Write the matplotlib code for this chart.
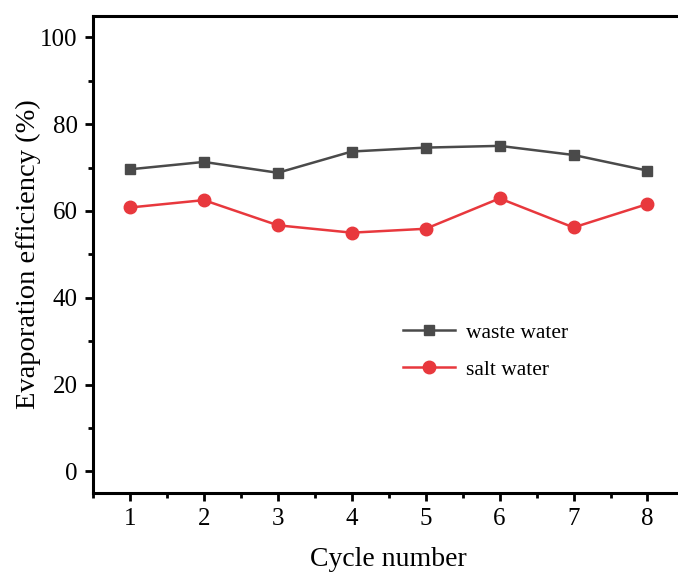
import matplotlib
matplotlib.use("Agg")
from matplotlib import pyplot as plt
from matplotlib.ticker import MultipleLocator

# data
cycles = [1, 2, 3, 4, 5, 6, 7, 8]
waste_water = [69.6, 71.3, 68.8, 73.7, 74.6, 75.0, 72.9, 69.3]
salt_water = [60.8, 62.5, 56.7, 55.0, 55.9, 62.9, 56.2, 61.6]

plt.rcParams["font.family"] = ["Liberation Serif", "DejaVu Serif"]

fig = plt.figure(figsize=(6.78, 5.72), dpi=100)
ax = fig.add_axes([0.1372, 0.138, 0.8723, 0.8346])

ax.plot(cycles, waste_water, color="#4a4a4a", marker="s", markersize=7.5,
        linewidth=1.8, label="waste water")
ax.plot(cycles, salt_water, color="#e8383d", marker="o", markersize=9,
        linewidth=1.8, label="salt water")

ax.set_xlim(0.5, 8.5)
ax.set_ylim(-5, 105)
ax.xaxis.set_major_locator(MultipleLocator(1))
ax.xaxis.set_minor_locator(MultipleLocator(0.5))
ax.yaxis.set_major_locator(MultipleLocator(20))
ax.yaxis.set_minor_locator(MultipleLocator(10))

for side in ["left", "bottom", "top"]:
    ax.spines[side].set_linewidth(2.2)
ax.spines["right"].set_visible(False)

ax.tick_params(which="major", direction="out", length=6, width=2,
               labelsize=18, pad=5)
ax.tick_params(which="minor", direction="out", length=3.5, width=2)
ax.tick_params(top=False, right=False, which="both")

ax.set_xlabel("Cycle number", fontsize=20, labelpad=12)
ax.set_ylabel("Evaporation efficiency (%)", fontsize=20.5)
ax.yaxis.set_label_coords(-0.088, 0.5)

ax.legend(loc="upper left", bbox_to_anchor=(0.51, 0.375), frameon=False,
          fontsize=15.5, handlelength=2.4, handletextpad=0.5,
          labelspacing=0.8, borderaxespad=0)

plt.savefig("out.png", dpi=100)
